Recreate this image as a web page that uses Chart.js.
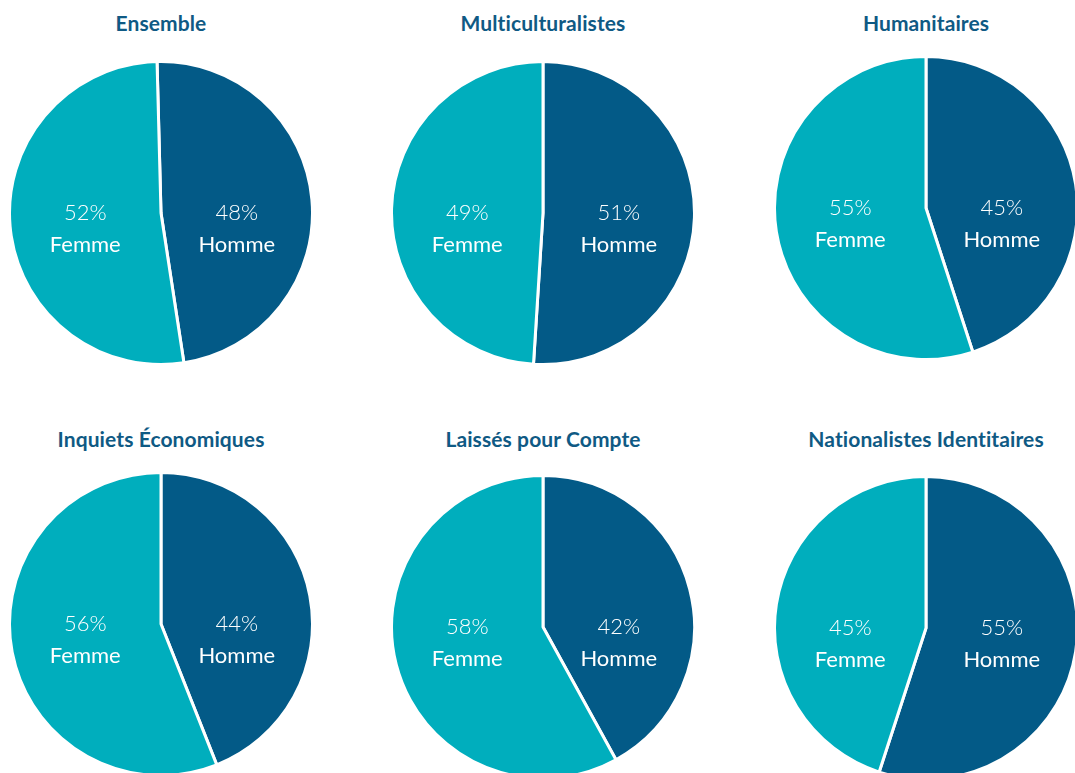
<!DOCTYPE html>
<html lang="fr">
<head>
<meta charset="utf-8">
<title>Genre par segment</title>
<script src="https://cdn.jsdelivr.net/npm/chart.js@4.4.0/dist/chart.umd.min.js"></script>
<style>
  html, body { margin: 0; padding: 0; background: #fff; overflow: hidden; }
  body { width: 1075px; height: 773px; position: relative; }
  .title {
    position: absolute; width: 360px; text-align: center;
    font-family: Lato, "Open Sans", sans-serif; font-weight: 700; font-size: 21px;
    color: #0f5a84; letter-spacing: 0.1px;
  }
  canvas { position: absolute; }
</style>
</head>
<body>
<script>
// data
var segments = ["Ensemble", "Multiculturalistes", "Humanitaires",
                "Inquiets Économiques", "Laissés pour Compte", "Nationalistes Identitaires"];
var categories = ["Homme", "Femme"];
var homme = [48, 51, 45, 44, 42, 55];
var femme = [52, 49, 55, 56, 58, 45];

// layout (pie centres) and styles
var centres = [[161, 213], [543, 213], [926, 208], [161, 624], [543, 627], [926, 628]];
var rotations = [-1.5, 0, 0, 0, 0, 0];
var colors = ["#035a87", "#00aebd"];
var size = 306;

// draws "xx%" + name in white, left/right of centre
var sideLabels = {
  id: "sideLabels",
  afterDatasetsDraw: function(chart) {
    var ctx = chart.ctx;
    var meta = chart.getDatasetMeta(0);
    var ds = chart.data.datasets[0];
    meta.data.forEach(function(arc, i) {
      var p = arc.getProps(["x", "y", "startAngle", "endAngle", "outerRadius"], true);
      var mid = (p.startAngle + p.endAngle) / 2;
      var side = Math.cos(mid) >= 0 ? 1 : -1;
      var x = p.x + side * p.outerRadius * 0.5;
      var y = p.y;
      ctx.save();
      ctx.fillStyle = "#ffffff";
      ctx.textAlign = "center";
      ctx.textBaseline = "middle";
      ctx.font = "300 22px Lato, 'Open Sans', sans-serif";
      ctx.fillText(ds.data[i] + "%", x, y);
      ctx.font = "400 22px Lato, 'Open Sans', sans-serif";
      ctx.fillText(chart.data.labels[i], x, y + 32);
      ctx.restore();
    });
  }
};

segments.forEach(function(name, k) {
  var c = centres[k];
  var t = document.createElement("div");
  t.className = "title";
  t.textContent = name;
  t.style.left = (c[0] - 180) + "px";
  t.style.top = (k < 3 ? 10 : 426) + "px";
  document.body.appendChild(t);

  var cv = document.createElement("canvas");
  cv.width = size; cv.height = size;
  cv.style.left = (c[0] - size / 2) + "px";
  cv.style.top = (c[1] - size / 2) + "px";
  cv.style.width = size + "px"; cv.style.height = size + "px";
  document.body.appendChild(cv);

  new Chart(cv, {
    type: "pie",
    data: {
      labels: categories,
      datasets: [{
        data: [homme[k], femme[k]],
        backgroundColor: colors,
        borderColor: "#ffffff",
        borderWidth: 3,
        hoverOffset: 0
      }]
    },
    options: {
      responsive: false,
      animation: false,
      rotation: rotations[k],
      layout: { padding: 0 },
      plugins: { legend: { display: false }, tooltip: { enabled: false } }
    },
    plugins: [sideLabels]
  });
});
</script>
</body>
</html>
